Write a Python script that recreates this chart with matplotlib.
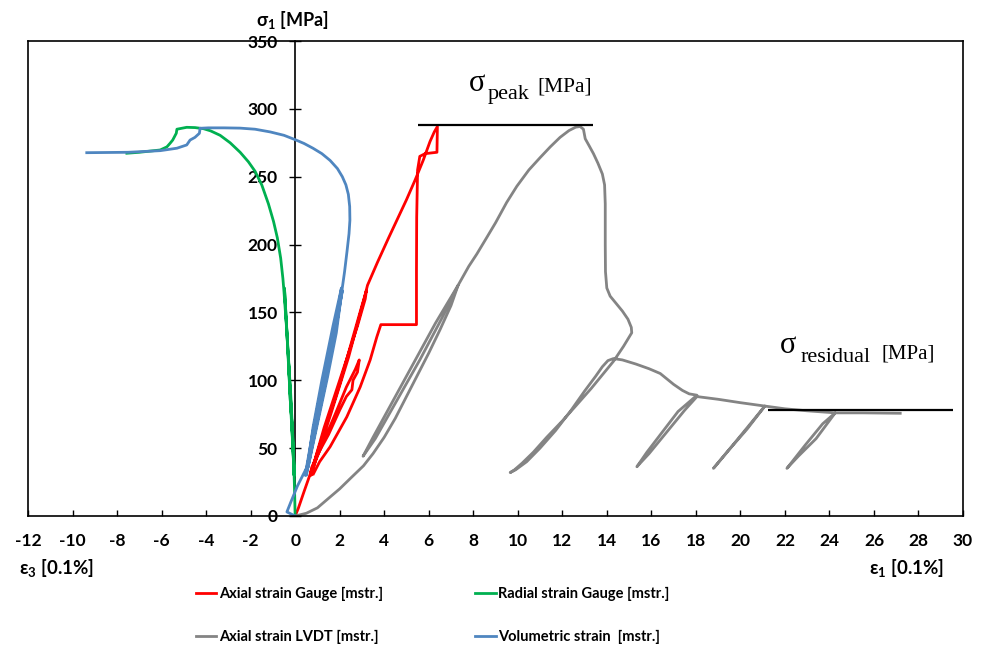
import matplotlib
matplotlib.use("Agg")
import matplotlib.pyplot as plt

plt.rcParams["font.family"] = ["Lato", "DejaVu Sans"]
plt.rcParams["font.weight"] = "bold"
plt.rcParams["axes.unicode_minus"] = False
plt.rcParams["mathtext.default"] = "regular"

# axis ranges / ticks
x_range = (-12, 30)
y_range = (0, 350)
x_ticks = list(range(-12, 31, 2))
y_ticks = list(range(0, 351, 50))

# axial strain gauge (red)
red_x = [0, 0.15, 0.4, 0.7, 1.2, 1.8, 2.3, 2.7, 2.88, 2.8, 2.6, 2.55, 2.3, 2.0,
         1.5, 1.0, 0.75, 0.68, 0.9, 1.4, 2.0, 2.6, 3.0, 3.2, 3.15, 2.8, 2.3,
         1.8, 1.3, 0.95, 0.8, 0.72, 1.0, 1.6, 2.4, 3.1, 3.25, 3.7, 4.2, 4.6,
         5.0, 5.4, 5.75, 6.06, 6.25, 6.39, 6.37, 6.1, 5.84, 5.6, 5.5, 5.46,
         5.45, 5.45, 3.85, 3.67, 3.37, 2.92, 2.32, 1.57, 1.1, 0.82]
red_y = [0, 6, 18, 32, 52, 75, 95, 108, 115, 106, 100, 93, 88, 78,
         60, 45, 36, 31, 42, 67, 97, 132, 155, 166, 160, 140, 115,
         90, 65, 45, 35, 30, 45, 75, 117, 160, 170, 187, 205, 219,
         233, 248, 262, 276, 283, 287, 268, 267.5, 267, 265, 255, 220,
         180, 141, 141, 132, 115, 95, 73, 51, 40, 31]

# radial strain gauge (green)
green_x = [0, -0.02, -0.07, -0.15, -0.22, -0.3, -0.2, -0.1, -0.05, -0.12, -0.25,
           -0.37, -0.48, -0.35, -0.2, -0.08, -0.03, -0.1, -0.22, -0.37, -0.5,
           -0.55, -0.65, -0.8, -0.97, -1.2, -1.5, -1.8, -2.1, -2.47, -2.92,
           -3.37, -3.8, -4.12, -4.5, -4.87, -5.31, -5.34, -5.5, -5.62, -5.76,
           -6.06, -7.0, -7.56]
green_y = [0, 15, 44, 70, 86, 115, 85, 50, 30, 60, 100,
           135, 168, 130, 90, 50, 30, 50, 86, 135, 165,
           175, 190, 205, 217, 230, 244, 254, 261, 268, 275,
           280.5, 283.8, 285.4, 286.2, 286.4, 285, 282, 277, 274.6, 272,
           269.7, 268, 267.3]

# axial strain LVDT (gray)
gray_x = [0, 0.5, 1.0, 1.57, 2.0, 2.5, 3.07, 3.5, 4.0, 4.5, 5.0, 5.5, 6.0,
          6.5, 7.0, 7.32, 6.3, 5.3, 4.3, 3.5, 3.05, 3.6, 4.6, 5.6, 6.6, 7.32,
          7.8, 8.16, 8.6, 9.0, 9.5, 9.96, 10.5, 11.0, 11.46, 11.9, 12.3, 12.6,
          12.8, 12.95, 13.03, 13.2, 13.4, 13.6, 13.8, 13.9, 13.93, 13.93,
          13.94, 14.0, 14.15, 14.4, 14.7, 14.95, 15.1, 15.12, 14.75, 14.3,
          13.8, 13.3, 12.6, 12.0, 11.3, 10.7, 10.2, 9.85, 9.66, 9.9, 10.4,
          11.0, 11.7, 12.4, 13.0, 13.5, 13.8, 14.05, 14.3, 14.7, 15.3, 15.9,
          16.4, 16.7, 17.0, 17.4, 17.7, 18.05, 17.2, 16.5, 15.8, 15.35, 15.9,
          16.7, 17.5, 18.05, 19.0, 20.0, 21.1, 20.3, 19.5, 18.79, 19.6, 20.4,
          21.1, 22.0, 23.0, 24.26, 23.4, 22.6, 22.09, 22.9, 23.7, 24.26, 25.5,
          27.18]
gray_y = [0, 2, 6, 14, 20, 28, 37, 46, 58, 72, 88, 104, 120,
          137, 155, 170, 142, 112, 82, 58, 44, 57, 86, 115, 146, 170,
          184, 193, 205, 216, 231, 243, 255, 264, 272, 279, 284, 286.5,
          287, 285, 278, 273, 267, 260, 252, 244, 230, 200,
          180, 168, 162, 157, 151, 145, 139, 135, 125, 114,
          104, 94, 81, 70, 58, 47, 39, 34, 32, 34, 40,
          50, 63, 78, 92, 103, 110, 114.5, 116, 115, 112, 108.5,
          105, 101, 97, 92.5, 90, 89, 77, 62, 47, 36.3, 46,
          62, 78, 88, 86, 83.5, 81, 64, 49, 35.1, 51, 67,
          81, 79, 77.5, 76, 57, 44, 35.1, 52, 68, 76, 76,
          75.7]

# volumetric strain (blue)
blue_x = [0, -0.37, -0.2, 0.1, 0.53, 0.9, 1.45, 1.1, 0.75, 0.45, 0.8, 1.3,
          1.75, 2.08, 1.7, 1.2, 0.8, 0.5, 0.9, 1.4, 1.8, 2.12, 1.75, 1.3,
          0.9, 0.58, 0.95, 1.45, 1.85, 2.1, 2.22, 2.33, 2.42, 2.46, 2.45,
          2.39, 2.28, 2.12, 1.9, 1.57, 1.2, 0.8, 0.4, 0.0, -0.5, -1.12,
          -1.8, -2.47, -3.2, -3.9, -4.27, -4.3, -4.5, -4.72, -4.87, -5.31,
          -6.06, -7.5, -9.36]
blue_y = [0, 3, 10, 22, 36, 67, 115, 88, 58, 30, 55, 95,
          135, 168, 140, 100, 65, 30, 62, 101, 135, 166, 136, 98,
          64, 36, 64, 102, 135, 166, 180, 195, 208, 218, 228,
          237, 244, 250, 256, 262, 267, 271, 274.5, 277.3, 280.5, 283,
          285, 285.8, 286, 286, 285.7, 282, 279, 277, 273.4, 271,
          269.2, 268, 267.7]

# reference levels
peak_level = 288
peak_span = (5.5, 13.4)
residual_level = 78
residual_span = (21.25, 29.56)

fig = plt.figure(figsize=(9.87, 6.45), dpi=100)
ax = fig.add_axes([28 / 987, 1 - 516 / 645, (963 - 28) / 987, (516 - 41) / 645])

lw = 2.0
l_red, = ax.plot(red_x, red_y, color="#ff0000", lw=lw, label="Axial strain Gauge [mstr.]")
l_green, = ax.plot(green_x, green_y, color="#00b050", lw=lw, label="Radial strain Gauge [mstr.]")
l_gray, = ax.plot(gray_x, gray_y, color="#848484", lw=lw, label="Axial strain LVDT [mstr.]")
l_blue, = ax.plot(blue_x, blue_y, color="#4f86c0", lw=lw, label="Volumetric strain  [mstr.]")

ax.hlines(peak_level, *peak_span, color="black", lw=1.6)
ax.hlines(residual_level, *residual_span, color="black", lw=1.6)

ax.set_xlim(*x_range)
ax.set_ylim(*y_range)
ax.set_xticks(x_ticks)
ax.tick_params(axis="x", direction="in", length=4, width=1, pad=12, labelsize=12.5)
ax.tick_params(axis="y", left=False, labelleft=False)
for sp in ax.spines.values():
    sp.set_linewidth(1.2)

# y axis through x = 0
sec = ax.secondary_yaxis((0 - x_range[0]) / (x_range[1] - x_range[0]))
sec.set_yticks(y_ticks)
sec.tick_params(direction="inout", length=9, width=1, pad=8, labelsize=12.5)
sec.spines["left"].set_linewidth(1.2)

# annotations
serif = "Liberation Serif"
ax.annotate("σ", xy=(7.82, 313), fontsize=22, family=serif, weight="normal", va="baseline")
ax.annotate("peak", xy=(7.82, 313), xytext=(13, -5.5), textcoords="offset points",
            fontsize=16, family=serif, weight="normal", va="baseline")
ax.annotate("[MPa]", xy=(7.82, 313), xytext=(49, 0), textcoords="offset points",
            fontsize=15.5, family=serif, weight="normal", va="baseline")
ax.annotate("σ", xy=(21.79, 120), fontsize=22, family=serif, weight="normal", va="baseline")
ax.annotate("residual", xy=(21.79, 120), xytext=(14.4, -6.3), textcoords="offset points",
            fontsize=16, family=serif, weight="normal", va="baseline")
ax.annotate("[MPa]", xy=(21.79, 120), xytext=(73, -3.6), textcoords="offset points",
            fontsize=15, family=serif, weight="normal", va="baseline")

fig.text(292 / 987, 1 - 20 / 645, "σ$_1$ [MPa]", ha="center", va="center", fontsize=13)
fig.text(19 / 987, 1 - 568 / 645, "ε$_3$ [0.1%]", ha="left", va="center", fontsize=13.5)
fig.text(944 / 987, 1 - 568 / 645, "ε$_1$ [0.1%]", ha="right", va="center", fontsize=13.5)

fig.legend(handles=[l_red, l_gray, l_green, l_blue], ncol=2, frameon=False,
           loc="upper left", bbox_to_anchor=(196 / 987, 1 - 587 / 645),
           prop={"family": ["Lato"], "weight": "bold", "size": 10.5},
           handlelength=1.4, handletextpad=0.15, labelspacing=1.95,
           columnspacing=6.35, borderpad=0, borderaxespad=0)

fig.savefig("out.png", dpi=100)
